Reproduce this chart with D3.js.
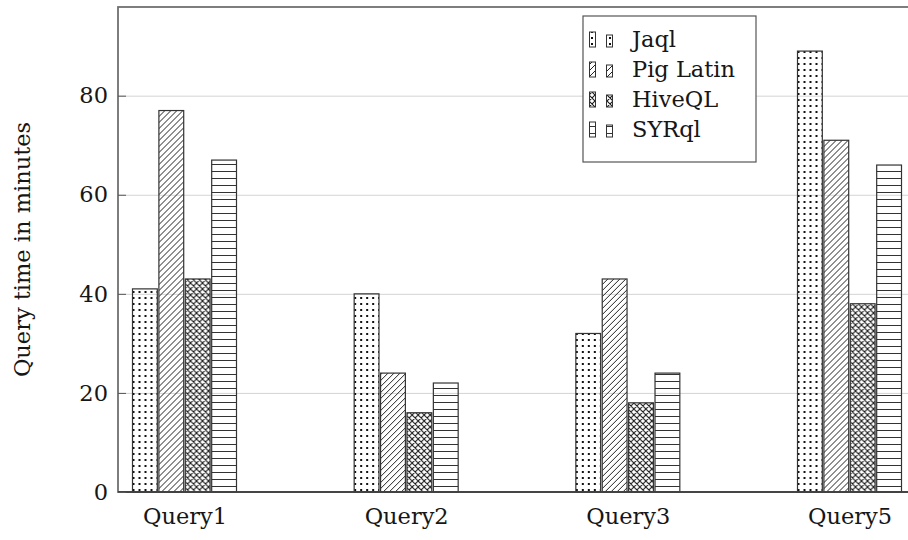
<!DOCTYPE html>
<html>
<head>
<meta charset="utf-8">
<script src="https://cdn.jsdelivr.net/npm/d3@7"></script>
<style>
  body { margin: 0; background: #fff; }
  svg { display: block; }
  text { font-family: "DejaVu Serif", serif; fill: #161616; }
</style>
</head>
<body>
<svg id="chart"></svg>
<script>
var categories = ["Query1", "Query2", "Query3", "Query5"];
var series = ["Jaql", "Pig Latin", "HiveQL", "SYRql"];
var jaql = [41, 40, 32, 89];
var pigLatin = [77, 24, 43, 71];
var hiveQL = [43, 16, 18, 38];
var syrql = [67, 22, 24, 66];
var yTicks = [0, 20, 40, 60, 80];
var yMax = 97.9;

var values = [jaql, pigLatin, hiveQL, syrql];
var patternIds = ["p-dots", "p-nelines", "p-cross", "p-hlines"];
var serif = "'DejaVu Serif', serif";
var fs = "22.5px";

var W = 908, H = 540;
var margin = { top: 7, right: -8, bottom: 48, left: 118 };
var width = W - margin.left - margin.right,
  height = H - margin.top - margin.bottom;

var svg = d3.select("#chart").attr("width", W).attr("height", H);

// patterns
var defs = svg.append("defs");
var pd = defs.append("pattern").attr("id", "p-dots").attr("patternUnits", "userSpaceOnUse")
  .attr("width", 6).attr("height", 6);
pd.append("rect").attr("x", 2).attr("y", 2).attr("width", 2).attr("height", 2).attr("fill", "#111");

var pn = defs.append("pattern").attr("id", "p-nelines").attr("patternUnits", "userSpaceOnUse")
  .attr("width", 6).attr("height", 6);
pn.append("path").attr("d", "M0,6L6,0M-1,1L1,-1M5,7L7,5")
  .attr("stroke", "#222").attr("stroke-width", 1);

var pc = defs.append("pattern").attr("id", "p-cross").attr("patternUnits", "userSpaceOnUse")
  .attr("width", 6).attr("height", 6);
pc.append("path").attr("d", "M0,6L6,0M-1,1L1,-1M5,7L7,5M0,0L6,6M-1,5L1,7M5,-1L7,1")
  .attr("stroke", "#1a1a1a").attr("stroke-width", 1.1);

var ph = defs.append("pattern").attr("id", "p-hlines").attr("patternUnits", "userSpaceOnUse")
  .attr("width", 7).attr("height", 7);
ph.append("line").attr("x1", 0).attr("x2", 7).attr("y1", 3.5).attr("y2", 3.5)
  .attr("stroke", "#333").attr("stroke-width", 1);

var g = svg.append("g").attr("transform", "translate(" + margin.left + "," + margin.top + ")");

var x0 = d3.scalePoint().domain(categories).range([0, width]).padding(0.3);
var x1 = d3.scaleBand().domain(series).range([-52, 52]).paddingInner(0.06);
var y = d3.scaleLinear().domain([0, yMax]).range([height, 0]);

// grid
g.append("g")
  .call(d3.axisLeft(y).tickValues(yTicks.slice(1)).tickSize(-width).tickFormat(""))
  .call(function (a) {
    a.select(".domain").remove();
    a.selectAll("line").attr("stroke", "#d4d4d4").attr("stroke-width", 1);
  });

// bars
var groups = g.selectAll(".grp").data(categories).enter().append("g")
  .attr("class", "grp")
  .attr("transform", function (d) { return "translate(" + x0(d) + ",0)"; });

groups.selectAll("rect")
  .data(function (d, ci) { return series.map(function (s, si) { return { s: s, si: si, v: values[si][ci] }; }); })
  .enter().append("rect")
  .attr("x", function (d) { return x1(d.s); })
  .attr("width", x1.bandwidth())
  .attr("y", function (d) { return y(d.v); })
  .attr("height", function (d) { return y(0) - y(d.v); })
  .attr("fill", function (d) { return "url(#" + patternIds[d.si] + ")"; })
  .attr("stroke", "#333")
  .attr("stroke-width", 1.2);

// frame
g.append("rect").attr("width", width).attr("height", height)
  .attr("fill", "none").attr("stroke", "#707070").attr("stroke-width", 1.8);
g.append("line").attr("x1", 0).attr("x2", width).attr("y1", height).attr("y2", height)
  .attr("stroke", "#333").attr("stroke-width", 1.3);

// y axis (inward ticks)
g.append("g")
  .call(d3.axisLeft(y).tickValues(yTicks).tickSize(-8).tickPadding(10))
  .call(function (a) {
    a.select(".domain").remove();
    a.selectAll("line").attr("stroke", "#555");
    a.selectAll("text").style("font-size", fs).attr("fill", "#161616")
      .style("font-family", serif);
  });

// x axis labels
g.append("g").attr("transform", "translate(0," + height + ")")
  .call(d3.axisBottom(x0).tickSize(0).tickPadding(16))
  .call(function (a) {
    a.select(".domain").remove();
    a.selectAll("text").style("font-size", fs).attr("fill", "#161616")
      .style("font-family", serif);
  });

// y label
svg.append("text")
  .attr("transform", "rotate(-90)")
  .attr("x", -(margin.top + height / 2))
  .attr("y", 30)
  .style("text-anchor", "middle")
  .style("font-size", fs)
  .text("Query time in minutes");

// legend
var leg = svg.append("g").attr("transform", "translate(583,16)");
leg.append("rect").attr("width", 173).attr("height", 146)
  .attr("fill", "#fff").attr("stroke", "#555").attr("stroke-width", 1.2);
var items = leg.selectAll(".li").data(series).enter().append("g")
  .attr("class", "li")
  .attr("transform", function (d, i) { return "translate(0," + (31 + i * 30) + ")"; });
items.append("rect").attr("x", 6.5).attr("y", -15).attr("width", 6).attr("height", 15)
  .attr("fill", function (d, i) { return "url(#" + patternIds[i] + ")"; })
  .attr("stroke", "#333").attr("stroke-width", 1);
items.append("rect").attr("x", 23.5).attr("y", -12).attr("width", 6).attr("height", 12)
  .attr("fill", function (d, i) { return "url(#" + patternIds[i] + ")"; })
  .attr("stroke", "#333").attr("stroke-width", 1);
items.append("text").attr("x", 49).attr("y", 0)
  .style("font-size", fs)
  .text(function (d) { return d; });
</script>
</body>
</html>
